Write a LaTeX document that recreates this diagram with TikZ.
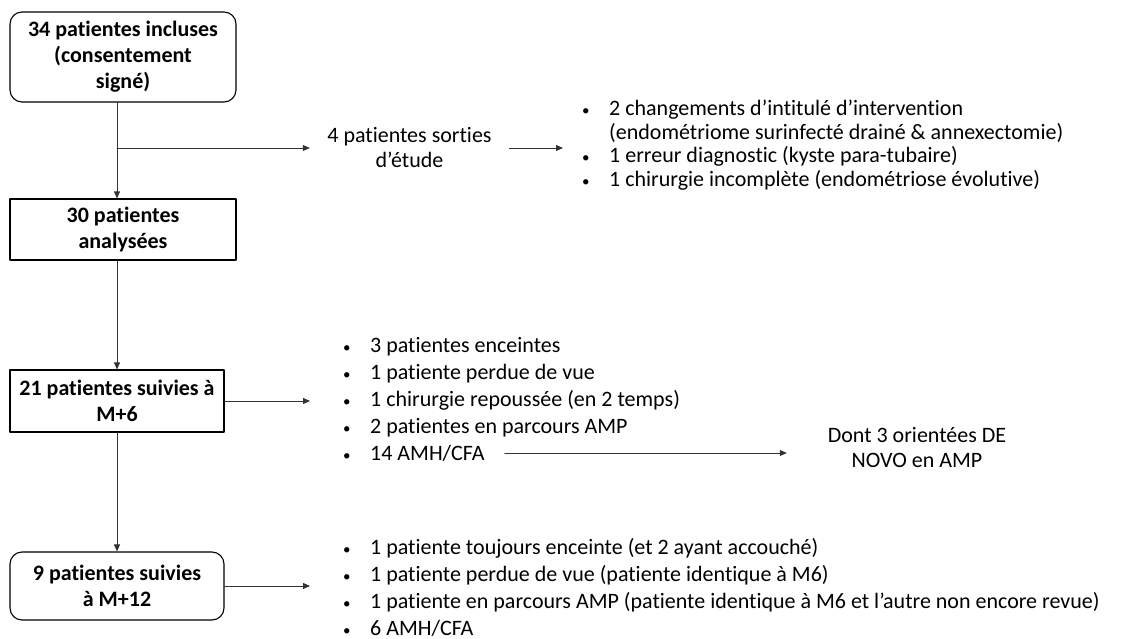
\documentclass[tikz,border=0pt]{standalone}
\usepackage{fontspec}
\setmainfont{Carlito}[Ligatures={TeX,NoCommon}]
\usetikzlibrary{arrows.meta,positioning}
\newcommand{\puce}{\makebox[28pt][l]{\hspace{1pt}\fontsize{15}{15}\selectfont\textbullet}}
\newcommand{\retrait}{\makebox[28pt][l]{}}

\begin{document}
\begin{tikzpicture}[x=1pt,y=-1pt,>={Triangle[length=7pt,width=6pt]},
	font=\fontsize{22}{26}\selectfont, line join=round, line cap=round,
	boite/.style={draw, line width=1.1pt, align=center, inner sep=2pt, font=\fontsize{22}{26}\selectfont\bfseries},
	fleche/.style={->, line width=0.8pt, black!80},
	ligne/.style={anchor=west, inner sep=0pt, text height=15pt, text depth=0pt}]
	
	\useasboundingbox (0,0) rectangle (1133,639);
	
	% boites principales
	\node[boite, rounded corners=12pt, minimum width=226pt, minimum height=90pt] (inclus) at (123,57) {34 patientes incluses\\(consentement\\signé)};
	\node[boite, minimum width=226pt, minimum height=61pt] (analyse) at (123,229.5) {30 patientes\\analysées};
	\node[boite, minimum width=214pt, minimum height=62pt] (suivi6) at (117,401) {21 patientes suivies à\\M+6};
	\node[boite, rounded corners=12pt, minimum width=214pt, minimum height=68pt] (suivi12) at (117,586) {9 patientes suivies\\à M+12};
	
	% sorties d'etude
	\node[inner sep=0pt, minimum width=199pt, align=center, font=\fontsize{22}{25}\selectfont] (sortie) at (409.5,148) {4 patientes sorties\\d'étude};
	\node[ligne] (s1) at (581,108) {\puce 2 changements d'intitulé d'intervention};
	\node[ligne] (s2) at (581,132) {\retrait(endométriome surinfecté drainé \& annexectomie)};
	\node[ligne] (s3) at (581,155) {\puce 1 erreur diagnostic (kyste para-tubaire)};
	\node[ligne] (s4) at (581,179) {\puce 1 chirurgie incomplète (endométriose évolutive)};
	
	% suivi a M+6
	\node[ligne] (m6a) at (342,345) {\puce 3 patientes enceintes};
	\node[ligne] (m6b) at (342,372) {\puce 1 patiente perdue de vue};
	\node[ligne] (m6c) at (342,399) {\puce 1 chirurgie repoussée (en 2 temps)};
	\node[ligne] (m6d) at (342,426) {\puce 2 patientes en parcours AMP};
	\node[ligne] (m6e) at (342,453) {\puce 14 AMH/CFA};
	\node[inner sep=0pt, minimum width=260pt, align=center, font=\fontsize{22}{25}\selectfont] (denovo) at (917,447.5) {Dont 3 orientées DE\\NOVO en AMP};
	
	% suivi a M+12
	\node[ligne] (m12a) at (342,547) {\puce 1 patiente toujours enceinte (et 2 ayant accouché)};
	\node[ligne] (m12b) at (342,574) {\puce 1 patiente perdue de vue (patiente identique à M6)};
	\node[ligne] (m12c) at (342,601) {\puce 1 patiente en parcours AMP (patiente identique à M6 et l'autre non encore revue)};
	\node[ligne] (m12d) at (342,628) {\puce 6 AMH/CFA};
	
	\coordinate (embr) at (suivi6 |- sortie);
	
	\draw[fleche] (inclus.south -| suivi6) -- (analyse.north -| suivi6);
	\draw[fleche] (embr) -- (sortie.west);
	\draw[fleche, shorten >=18pt] (sortie.east) -- (sortie.east -| s1.west);
	\draw[fleche] (analyse.south -| suivi6) -- (suivi6.north);
	\draw[fleche, shorten >=32pt] (suivi6.east) -- (suivi6.east -| m6a.west);
	\draw[fleche, shorten <=20pt] (m6e.east) -- (m6e.east -| denovo.west);
	\draw[fleche] (suivi6.south) -- (suivi12.north);
	\draw[fleche, shorten >=32pt] (suivi12.east) -- (suivi12.east -| m12a.west);
\end{tikzpicture}
\end{document}
